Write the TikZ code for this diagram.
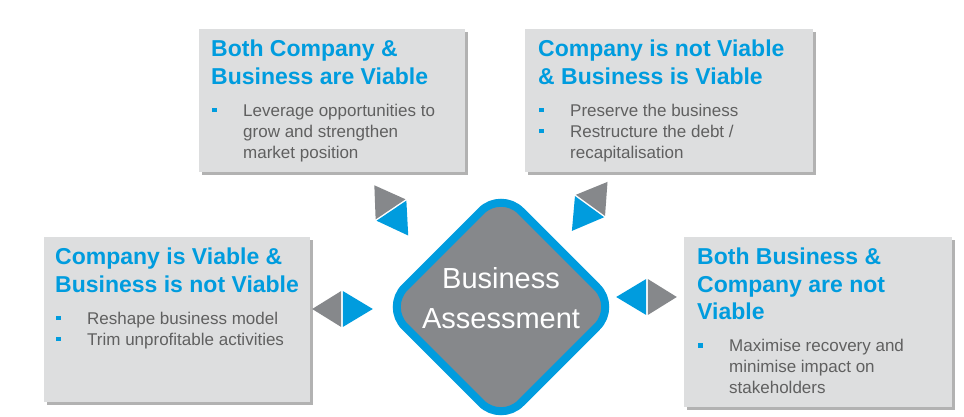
\documentclass[tikz,border=0pt]{standalone}
\usepackage{fontspec}
\setmainfont{Liberation Sans}
\usetikzlibrary{shapes.geometric,shadows}
\definecolor{assessblue}{RGB}{0,156,222}
\definecolor{assessgray}{RGB}{134,136,139}
\definecolor{panelgray}{RGB}{221,222,223}
\definecolor{bodygray}{RGB}{96,96,96}
\newcommand{\sqbullet}{\hspace*{1pt}\makebox[31pt][l]{\textcolor{assessblue}{\rule[4pt]{4.5pt}{4.5pt}}}}
\newcommand{\hang}{\hspace*{32pt}}
\newcommand{\paneltext}[2]{\parbox[t]{260pt}{\rule{0pt}{27.5pt}\fontsize{23}{27.5}\selectfont\bfseries\color{assessblue}#1\par
    \vspace{11pt}\fontsize{17}{21}\selectfont\mdseries\color{bodygray}#2}}
\tikzset{
    tripair/.pic={
        \fill[assessblue] (0.8,-18) -- (30.8,0) -- (0.8,18) -- cycle;
        \fill[assessgray] (-0.8,-18) -- (-29.8,0) -- (-0.8,18) -- cycle;
    }
}
\begin{document}
\begin{tikzpicture}[x=1pt,y=1pt,
    panel/.style={anchor=north west,fill=panelgray,inner sep=0,
        drop shadow={shadow xshift=2.5pt,shadow yshift=-2.5pt,fill=black,opacity=0.3}},
    panelcopy/.style={anchor=north west,inner sep=0},
    hub/.style={diamond,draw=assessblue,line width=8pt,fill=assessgray,
        minimum width=235pt,minimum height=235pt,inner sep=0,rounded corners=28pt},
    hubtext/.style={text=white,align=center,font=\fontsize{29}{40}\selectfont}]
    \useasboundingbox (0,0) rectangle (964,417);
    \node[panel,minimum width=266pt,minimum height=143pt] (bothviable) at (199,388) {};
    \node[panel,minimum width=288pt,minimum height=143pt] (bizviable) at (525,388) {};
    \node[panel,minimum width=266pt,minimum height=165pt] (coviable) at (44,180) {};
    \node[panel,minimum width=268pt,minimum height=170pt] (noneviable) at (684,180) {};
    \node[panelcopy] at ([xshift=12pt]bothviable.north west) {\paneltext{Both Company \&\\Business are Viable}
        {\sqbullet Leverage opportunities to\\\hang grow and strengthen\\\hang market position}};
    \node[panelcopy] at ([xshift=13pt]bizviable.north west) {\paneltext{Company is not Viable\\\& Business is Viable}
        {\sqbullet Preserve the business\\\sqbullet Restructure the debt /\\\hang recapitalisation}};
    \node[panelcopy] at ([xshift=11pt]coviable.north west) {\paneltext{Company is Viable \&\\Business is not Viable}
        {\sqbullet Reshape business model\\\sqbullet Trim unprofitable activities}};
    \node[panelcopy] at ([xshift=13pt]noneviable.north west) {\paneltext{Both Business \&\\Company are not\\Viable}
        {\sqbullet Maximise recovery and\\\hang minimise impact on\\\hang stakeholders}};
    \node[hub,label={[hubtext,yshift=9pt]center:Business\\Assessment}] (assess) at (501,110) {};
    \pic[rotate=-56] at (391,207) {tripair};
    \pic[rotate=-126] at (590,211) {tripair};
    \pic at (342,108) {tripair};
    \pic[rotate=180] at (647,120) {tripair};
\end{tikzpicture}
\end{document}
